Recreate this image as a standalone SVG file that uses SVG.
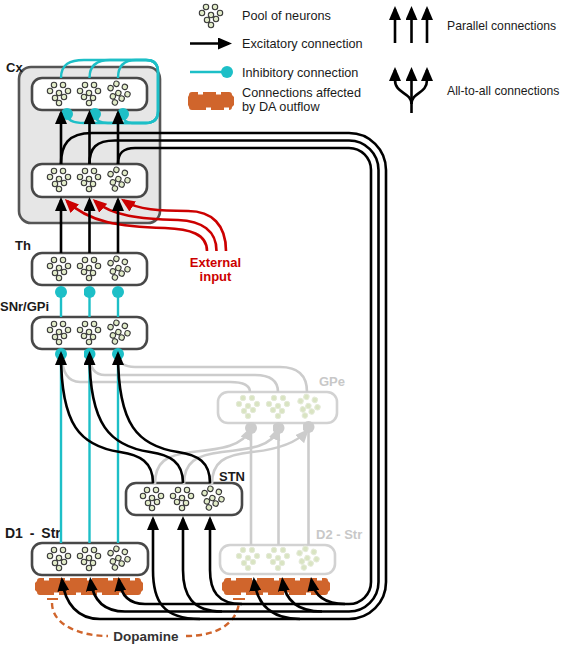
<svg xmlns="http://www.w3.org/2000/svg" xmlns:xlink="http://www.w3.org/1999/xlink" width="567" height="645" viewBox="0 0 567 645">
<style>
.box{fill:#fff;stroke:#484848;stroke-width:2.6}
.fbox{fill:#fff;stroke:#d2d2d2;stroke-width:2.6}
.pool{fill:#e2ecc9;stroke:#3a3a3a;stroke-width:1.1}
.fpool{fill:#d9e4c2;stroke:#e4ead8;stroke-width:1}
.ex{fill:none;stroke:#000;stroke-width:2.6;marker-end:url(#ah)}
.exr{fill:none;stroke:#cc0000;stroke-width:2.6;marker-end:url(#ahr)}
.exg{fill:none;stroke:#cccccc;stroke-width:2.6;marker-end:url(#ahg)}
.gl{fill:none;stroke:#cccccc;stroke-width:2.6}
.inh{fill:none;stroke:#1dbfc7;stroke-width:2.4;marker-end:url(#dot)}
.inhg{fill:none;stroke:#cccccc;stroke-width:2.6;marker-end:url(#dotg)}
.da{fill:#d0652c}
.notch{fill:#fff}
.dash{fill:none;stroke:#d0652c;stroke-width:2.4;stroke-dasharray:6 4}
.lbl{font-family:"Liberation Sans",Arial,sans-serif;font-weight:bold;font-size:13px;fill:#1a1a1a}
.flbl{font-family:"Liberation Sans",Arial,sans-serif;font-weight:bold;font-size:13px;fill:#c8c8c8}
.rlbl{font-family:"Liberation Sans",Arial,sans-serif;font-weight:bold;font-size:13px;fill:#cc0000}
.leg{font-family:"Liberation Sans",Arial,sans-serif;font-size:12.7px;fill:#1a1a1a}
.leg2{font-family:"Liberation Sans",Arial,sans-serif;font-size:12.2px;fill:#1a1a1a}
</style>
<defs>
<marker id="ah" viewBox="0 0 14 12" refX="11" refY="6" markerWidth="14" markerHeight="12" markerUnits="userSpaceOnUse" orient="auto"><path d="M0,0 L14,6 L0,12 Z" fill="#000"/></marker>
<marker id="ahr" viewBox="0 0 14 12" refX="11" refY="6" markerWidth="14" markerHeight="12" markerUnits="userSpaceOnUse" orient="auto"><path d="M0,0 L14,6 L0,12 Z" fill="#cc0000"/></marker>
<marker id="ahg" viewBox="0 0 14 12" refX="11" refY="6" markerWidth="14" markerHeight="12" markerUnits="userSpaceOnUse" orient="auto"><path d="M0,0 L14,6 L0,12 Z" fill="#cccccc"/></marker>
<marker id="dot" viewBox="-6 -6 12 12" refX="0" refY="0" markerWidth="12" markerHeight="12" markerUnits="userSpaceOnUse"><circle r="6" fill="#1dbfc7"/></marker>
<marker id="dotg" viewBox="-6 -6 12 12" refX="0" refY="0" markerWidth="12" markerHeight="12" markerUnits="userSpaceOnUse"><circle r="6" fill="#cccccc"/></marker>
<g id="pool">
<circle cx="-5" cy="-9" r="2.7"/><circle cx="4" cy="-9" r="2.7"/><circle cx="-9" cy="-3" r="2.7"/><circle cx="0" cy="-1" r="2.7"/><circle cx="9" cy="-3" r="2.7"/><circle cx="-4" cy="4" r="2.7"/><circle cx="5" cy="3" r="2.7"/><circle cx="0" cy="9" r="2.7"/>
</g>
<g id="band">
<path class="da" d="M5,0 H103 Q106,0 106,3 L108,5 V12 L106,14 Q106,17 103,17 H5 Q2,17 2,14 L0,12 V5 L2,3 Q2,0 5,0 Z"/>
<rect class="notch" x="9" y="-0.5" width="5" height="3"/><rect class="notch" x="30" y="-0.5" width="5" height="3"/><rect class="notch" x="52" y="-0.5" width="5" height="3"/><rect class="notch" x="73" y="-0.5" width="5" height="3"/><rect class="notch" x="95" y="-0.5" width="5" height="3"/>
<rect class="notch" x="19" y="14.5" width="5" height="3"/><rect class="notch" x="41" y="14.5" width="5" height="3"/><rect class="notch" x="62" y="14.5" width="5" height="3"/><rect class="notch" x="84" y="14.5" width="5" height="3"/>
</g>
</defs>
<rect width="567" height="645" fill="#fff"/>

<g id="legend">
<use href="#pool" class="pool" transform="translate(211,16)"/>
<text class="leg" x="242" y="20">Pool of neurons</text>
<path class="ex" d="M190,43.5 H229"/>
<text class="leg" x="242" y="48">Excitatory connection</text>
<path class="inh" d="M190,72 H227"/>
<text class="leg" x="242" y="77">Inhibitory connection</text>
<path class="da" d="M192,92 H229 Q232,92 232,95 L234,97 V105 L232,107 Q232,110 229,110 H192 Q189,110 189,107 L188,105 V97 L189,95 Q189,92 192,92 Z"/>
<rect class="notch" x="198" y="91.5" width="5" height="3"/><rect class="notch" x="216" y="91.5" width="5" height="3"/>
<rect class="notch" x="206" y="107.5" width="5" height="3"/><rect class="notch" x="224" y="107.5" width="5" height="3"/>
<text class="leg" x="242" y="97">Connections affected</text>
<text class="leg" x="242" y="111">by DA outflow</text>
<path class="ex" d="M395,43 V9"/><path class="ex" d="M411.5,43 V9"/><path class="ex" d="M427,43 V9"/>
<text class="leg2" x="447" y="30">Parallel connections</text>
<path class="ex" d="M411.5,104 C411.5,92 395,94 395,80 V70"/>
<path class="ex" d="M411.5,104 C411.5,92 427,94 427,80 V70"/>
<path class="ex" d="M411.5,113 V70"/>
<text class="leg2" x="447" y="95">All-to-all connections</text>
</g>

<g id="cx">
<rect x="19" y="67" width="141" height="156" rx="12" fill="#e6e6e6" stroke="#555" stroke-width="2.6"/>
<text class="lbl" x="6" y="72">Cx</text>
</g>
<g id="cx-top">
<rect class="box" x="32" y="78" width="115" height="32" rx="10"/>
<use href="#pool" class="pool" transform="translate(59,94)"/>
<use href="#pool" class="pool" transform="translate(89,94) scale(-1,1)"/>
<use href="#pool" class="pool" transform="translate(118,94) rotate(20)"/>
</g>
<g id="cx-bottom">
<rect class="box" x="32" y="164" width="115" height="33" rx="10"/>
<use href="#pool" class="pool" transform="translate(59,180)"/>
<use href="#pool" class="pool" transform="translate(89,180) scale(-1,1)"/>
<use href="#pool" class="pool" transform="translate(118,180) rotate(20)"/>
</g>
<g id="th">
<rect class="box" x="32" y="253" width="115" height="32" rx="10"/>
<use href="#pool" class="pool" transform="translate(59,269)"/>
<use href="#pool" class="pool" transform="translate(89,269) scale(-1,1)"/>
<use href="#pool" class="pool" transform="translate(118,269) rotate(20)"/>
<text class="lbl" x="15" y="250">Th</text>
</g>
<g id="snr">
<rect class="box" x="32" y="317" width="115" height="32" rx="10"/>
<use href="#pool" class="pool" transform="translate(59,333)"/>
<use href="#pool" class="pool" transform="translate(89,333) scale(-1,1)"/>
<use href="#pool" class="pool" transform="translate(118,333) rotate(20)"/>
<text class="lbl" x="0" y="311">SNr/GPi</text>
</g>
<g id="gpe">
<rect class="fbox" x="218" y="392" width="119" height="31" rx="10"/>
<use href="#pool" class="fpool" transform="translate(248,407)"/>
<use href="#pool" class="fpool" transform="translate(278,407) scale(-1,1)"/>
<use href="#pool" class="fpool" transform="translate(308,407) rotate(20)"/>
<text class="flbl" x="319" y="386">GPe</text>
</g>
<g id="stn">
<rect class="box" x="126" y="483" width="116" height="32" rx="10"/>
<use href="#pool" class="pool" transform="translate(152,499)"/>
<use href="#pool" class="pool" transform="translate(182,499) scale(-1,1)"/>
<use href="#pool" class="pool" transform="translate(212,499) rotate(20)"/>
<text class="lbl" x="219" y="481">STN</text>
</g>
<g id="d1">
<rect class="box" x="32" y="543" width="116" height="32" rx="10"/>
<use href="#pool" class="pool" transform="translate(59,559)"/>
<use href="#pool" class="pool" transform="translate(89,559) scale(-1,1)"/>
<use href="#pool" class="pool" transform="translate(118,559) rotate(20)"/>
<text class="lbl" x="5" y="538" style="font-size:14px;word-spacing:3px">D1 - Str</text>
</g>
<g id="d2">
<rect class="fbox" x="220" y="545" width="115" height="29" rx="10"/>
<use href="#pool" class="fpool" transform="translate(248,559)"/>
<use href="#pool" class="fpool" transform="translate(278,559) scale(-1,1)"/>
<use href="#pool" class="fpool" transform="translate(307,559) rotate(20)"/>
<text class="flbl" x="316" y="539">D2 - Str</text>
</g>
<g id="dopamine">
<use href="#band" transform="translate(35,578)"/>
<use href="#band" transform="translate(222,578)"/>
<path d="M47,599 H58 M233,599 H245" stroke="#d0652c" stroke-width="2"/>
<path class="dash" d="M52,603 C52,625 80,636 108,636"/>
<path class="dash" d="M186,636 C215,636 236,625 239,603"/>
<text class="lbl" x="146" y="641" text-anchor="middle" style="fill:#333;font-size:13.5px">Dopamine</text>
</g>
<g id="external">
<text class="rlbl" x="215.5" y="267" text-anchor="middle">External</text>
<text class="rlbl" x="215.5" y="281" text-anchor="middle">input</text>
</g>

<g id="connectors">
<path class="gl" d="M250,392 C250,385 244,382 230,382 H80 C68,382 62,372 62,356"/>
<path class="gl" d="M278,392 C278,380 270,375 255,375 H105 C95,375 90,368 90,356"/>
<path class="gl" d="M307,392 C307,375 298,367 280,367 H135 C124,367 118,362 118,356"/>
<path class="inhg" d="M251,545 V428"/>
<path class="inhg" d="M278.5,545 V428"/>
<path class="inhg" d="M308.5,545 V427"/>
<path class="exg" d="M155,484 C155,462 166,455 192,452 C222,449 243,446 250.5,429"/>
<path class="exg" d="M184,484 C184,462 196,455 222,452 C252,449 272,446 278.5,429"/>
<path class="exg" d="M212,484 C212,462 224,455 252,452 C282,449 298,441 307,431"/>
<path class="inh" d="M61,78 C61,64 70,60 84,60 H146 Q158,60 158,72 V111 Q158,123 146,123 H84 C73,123 67,120 67,114"/>
<path class="inh" d="M89.5,78 C89.5,66 96,60 110,60 H146 Q158,60 158,72 V111 Q158,123 146,123 H108 C99,123 95,120 95,114"/>
<path class="inh" d="M118,78 C118,66 124,60 136,60 H146 Q158,60 158,72 V111 Q158,123 146,123 H132 C126,123 123,120 123,114"/>
<path class="inh" d="M61,317 V292"/>
<path class="inh" d="M89.5,317 V292"/>
<path class="inh" d="M118,317 V292"/>
<path class="inh" d="M61,543 V354"/>
<path class="inh" d="M89.5,543 V354"/>
<path class="inh" d="M118,543 V354"/>
<path class="exr" d="M207,251 C207,234 190,229 165,228 C120,227 88,222 67,201"/>
<path class="exr" d="M216.5,251 C216.5,231 202,221 178,220 C140,219 112,216 95,201"/>
<path class="exr" d="M226,251 C226,225 212,211 188,211 C160,211 138,210 123.5,200.5"/>
<path class="ex" d="M61,164 V113"/>
<path class="ex" d="M89.5,164 V113"/>
<path class="ex" d="M118,164 V113"/>
<path class="ex" d="M61,253 V200"/>
<path class="ex" d="M89.5,253 V200"/>
<path class="ex" d="M118,253 V200"/>
<path class="ex" d="M61,164 C61,145 68,133 92,133 H349 A37,37 0 0 1 386,170 V582 A37,37 0 0 1 349,619 H100 C78,619 65,604 62,580"/>
<path class="ex" d="M89.5,164 C89.5,148 96,140.5 115,140.5 H349 A29.5,29.5 0 0 1 378.5,170 V582 A29.5,29.5 0 0 1 349,611.5 H125 C104,611.5 93,600 90.5,580"/>
<path class="ex" d="M118,164 C118,153 123,148 135,148 H349 A22,22 0 0 1 371,170 V582 A22,22 0 0 1 349,604 H145 C130,604 121,596 119,580"/>
<path class="ex" d="M200,619 C162,619 153,600 153,570 V519"/>
<path class="ex" d="M222,611.5 C192,611.5 183,595 183,570 V519"/>
<path class="ex" d="M242,604 C217,604 210,590 210,570 V519"/>
<path class="ex" d="M300,619 C272,619 257,605 254,580"/>
<path class="ex" d="M322,611.5 C298,611.5 285,600 282.5,580"/>
<path class="ex" d="M345,604 C324,604 314,595 311.5,580"/>
<path class="ex" d="M153,483 C153,462 140,455 120,452 C80,446 61,425 61,354"/>
<path class="ex" d="M183,483 C183,462 170,455 150,452 C110,446 89.5,425 89.5,354"/>
<path class="ex" d="M210,483 C210,462 198,455 178,452 C138,446 118,425 118,354"/>
</g>
</svg>
